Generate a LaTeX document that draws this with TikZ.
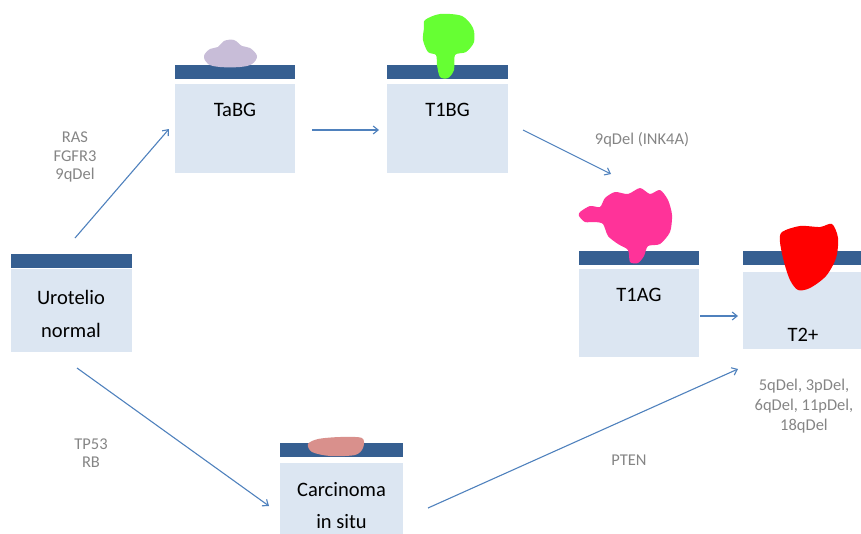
\documentclass[tikz,border=0pt]{standalone}
\usepackage{fontspec}
\setmainfont{Carlito}
\usetikzlibrary{arrows.meta}
\definecolor{barblue}{HTML}{365F91}
\definecolor{boxblue}{HTML}{DCE6F2}
\definecolor{linkblue}{HTML}{4F81BD}
\definecolor{labelgray}{HTML}{858585}
\begin{document}
\begin{tikzpicture}[x=1pt,y=-1pt,
  tissue/.style={fill=boxblue,draw=none,inner sep=0pt},
  layer/.style={fill=barblue,draw=none,inner sep=0pt,minimum height=14pt},
  boxtext/.style={font=\fontsize{20.5}{31}\selectfont,text=black,align=center,inner sep=0pt},
  genes/.style={font=\fontsize{16.5}{18.5}\selectfont,text=labelgray,align=center,inner sep=0pt},
  link/.style={draw=linkblue,line width=1.1pt,-{Straight Barb[length=5pt,width=8pt]}}]
\useasboundingbox (0,0) rectangle (861,533);

% tissue blocks: light body with dark surface layer
\node[tissue,minimum width=121pt,minimum height=83pt] (uro) at (71,310.5) {};
\node[layer,minimum width=121pt] (urol) at (71,260.5) {};
\node[tissue,minimum width=120pt,minimum height=89pt] (tabg) at (235,128.5) {};
\node[layer,minimum width=120pt] (tabgl) at (235,72) {};
\node[tissue,minimum width=121pt,minimum height=89pt] (t1bg) at (447.5,128.5) {};
\node[layer,minimum width=121pt] (t1bgl) at (447.5,72) {};
\node[tissue,minimum width=120pt,minimum height=88pt] (t1ag) at (639,313) {};
\node[layer,minimum width=120pt] (t1agl) at (639,257.5) {};
\node[tissue,minimum width=120pt,minimum height=77pt] (t2) at (803,310.5) {};
\node[layer,minimum width=120pt] (t2l) at (803,257.5) {};
\node[tissue,minimum width=123pt,minimum height=75pt] (cis) at (341.5,500.5) {};
\node[layer,minimum width=123pt] (cisl) at (341.5,449.5) {};

% tumour growths on the surface
\fill[fill={rgb,255:red,200;green,189;blue,216}] plot[smooth cycle,tension=0.6] coordinates
  {(204,56) (210,49) (218,47) (224,41) (234,40) (242,46) (250,48) (257,56) (252,64) (240,67) (220,67) (208,64)};
\fill[fill={rgb,255:red,102;green,255;blue,51}] plot[smooth cycle,tension=0.5] coordinates
  {(425,20) (440,14) (462,16) (473,28) (474,42) (466,52) (455,55) (454,70) (448,78) (440,77) (437,65) (436,55) (428,52) (423,40) (424,28)};
\fill[fill={rgb,255:red,255;green,51;blue,153}] plot[smooth cycle,tension=0.45] coordinates
  {(580,212) (590,206) (600,207) (605,198) (615,192) (628,194) (640,188) (650,194) (660,190) (668,200) (672,215) (670,232) (660,244) (648,246) (644,256) (638,263) (630,262) (628,250) (618,244) (608,236) (603,224) (595,222) (585,222) (579,216)};
\fill[fill={rgb,255:red,255;green,0;blue,0}] plot[smooth cycle,tension=0.5] coordinates
  {(782,232) (800,226) (820,227) (832,224) (838,238) (836,258) (826,276) (810,288) (798,290) (790,280) (784,262) (780,242)};
\fill[fill={rgb,255:red,217;green,144;blue,140}] plot[smooth cycle,tension=0.5] coordinates
  {(308,444) (318,439) (340,437) (362,438) (363,448) (355,455) (330,456) (312,452)};

% block names
\node[boxtext] (urot) at (71,297) {Urotelio};
\node[boxtext] (uron) at (71,330) {normal};
\node[boxtext] (tabgt) at (235,110) {TaBG};
\node[boxtext] (t1bgt) at (447.5,110) {T1BG};
\node[boxtext] (t1agt) at (639,295) {T1AG};
\node[boxtext] (t2t) at (803,335) {T2+};
\node[boxtext] (cist) at (341.5,490) {Carcinoma};
\node[boxtext] (cisi) at (341.5,522) {in situ};

% altered genes
\node[genes] (g1) at (75,157) {RAS\\FGFR3\\9qDel};
\node[genes] (g2) at (642,140) {9qDel (INK4A)};
\node[genes] (g3) at (91,453) {TP53\\RB};
\node[genes] (g4) at (629,460) {PTEN};
\node[genes,font=\fontsize{16.5}{20}\selectfont] (g5) at (804,406) {5qDel, 3pDel,\\6qDel, 11pDel,\\18qDel};

% progression arrows
\coordinate (a1s) at (75,238);   \coordinate (a1e) at (169,129);
\coordinate (a2s) at (312,130);  \coordinate (a2e) at (379,130);
\coordinate (a3s) at (523,130);  \coordinate (a3e) at (611,174);
\coordinate (a4s) at (700,316);  \coordinate (a4e) at (738,316);
\coordinate (a5s) at (77,368);   \coordinate (a5e) at (269,506);
\coordinate (a6s) at (428,508);  \coordinate (a6e) at (738,369);
\draw[link] (a1s) -- (a1e);
\draw[link] (a2s) -- (a2e);
\draw[link] (a3s) -- (a3e);
\draw[link] (a4s) -- (a4e);
\draw[link] (a5s) -- (a5e);
\draw[link] (a6s) -- (a6e);
\end{tikzpicture}
\end{document}
